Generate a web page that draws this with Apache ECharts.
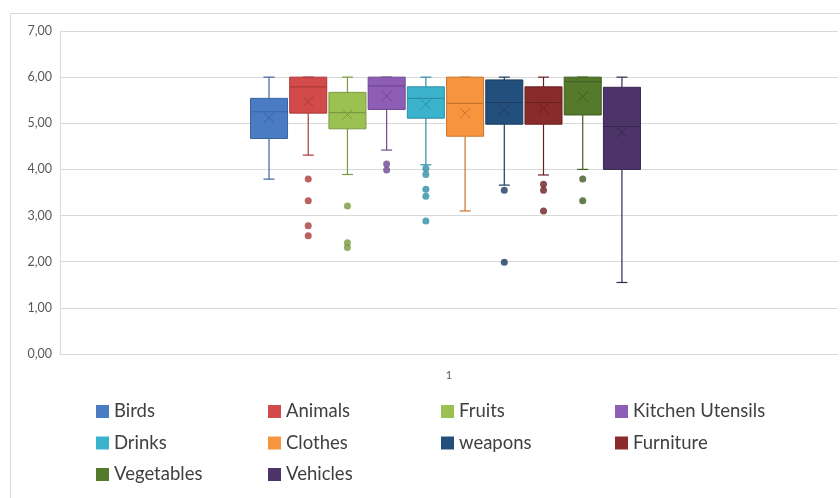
<!DOCTYPE html>
<html>
<head>
<meta charset="utf-8">
<script src="https://cdn.jsdelivr.net/npm/echarts@6/dist/echarts.min.js"></script>
<style>
  html, body { margin: 0; padding: 0; background: #fff; }
  #chart { width: 840px; height: 498px; }
</style>
</head>
<body>
<div id="chart"></div>
<script>
// 类别与系列
const categories = ['1']
const seriesNames = ['Birds', 'Animals', 'Fruits', 'Kitchen Utensils', 'Drinks',
  'Clothes', 'weapons', 'Furniture', 'Vegetables', 'Vehicles']
const fillColors = ['#4a7cc3', '#d24a4a', '#9bc152', '#8e5db6', '#3cb3cc',
  '#f7953f', '#234f7d', '#8a2b2b', '#557a2b', '#4c3468']
const edgeColors = ['#3a64a0', '#a93a3a', '#7b9a40', '#6f4791', '#2e8fa4',
  '#c87430', '#1a3b5e', '#6a1f1f', '#3f5c1f', '#382650']

// [min, q1, median, q3, max]
const boxMin = [3.79, 4.31, 3.89, 4.42, 4.10, 3.10, 3.66, 3.88, 4.00, 1.55]
const boxQ1 = [4.67, 5.22, 4.88, 5.30, 5.11, 4.72, 4.98, 4.98, 5.18, 4.00]
const boxMedian = [5.25, 5.79, 5.23, 5.81, 5.54, 5.43, 5.45, 5.45, 5.90, 4.93]
const boxQ3 = [5.54, 6.00, 5.67, 6.00, 5.79, 6.00, 5.94, 5.79, 6.00, 5.78]
const boxMax = [6.00, 6.00, 6.00, 6.00, 6.00, 6.00, 6.00, 6.00, 6.00, 6.00]
const boxMean = [5.12, 5.47, 5.19, 5.59, 5.41, 5.22, 5.29, 5.32, 5.58, 4.80]
const outliers = [
  [],
  [3.79, 3.32, 2.78, 2.56],
  [3.21, 2.41, 2.31],
  [4.12, 3.99],
  [4.02, 3.89, 3.57, 3.42, 2.88],
  [],
  [3.55, 1.99],
  [3.68, 3.55, 3.10],
  [3.79, 3.32],
  []
]
const yTicks = { min: 0, max: 7, interval: 1 }

const FONT = 'Lato'
const boxUnits = 0.944
const capUnits = 0.28
const meanUnits = 0.26

/**
 * 箱体绘制
 */
const renderBox = (params, api) => {
  const i = params.seriesIndex
  const x = api.value(0)
  const lo = api.coord([x, api.value(1)])
  const q1 = api.coord([x, api.value(2)])
  const md = api.coord([x, api.value(3)])
  const q3 = api.coord([x, api.value(4)])
  const hi = api.coord([x, api.value(5)])
  const mn = api.coord([x, api.value(6)])
  const halfW = api.size([boxUnits, 0])[0] / 2
  const capW = api.size([capUnits, 0])[0] / 2
  const mW = api.size([meanUnits, 0])[0] / 2
  const cx = lo[0]
  const edge = edgeColors[i]
  const line = (x1, y1, x2, y2, w) => ({
    type: 'line',
    shape: { x1, y1, x2, y2 },
    style: { stroke: edge, lineWidth: w || 1.2 }
  })
  return {
    type: 'group',
    children: [
      line(cx, hi[1], cx, q3[1]),
      line(cx, q1[1], cx, lo[1]),
      line(cx - capW, hi[1], cx + capW, hi[1]),
      line(cx - capW, lo[1], cx + capW, lo[1]),
      {
        type: 'rect',
        shape: { x: cx - halfW, y: q3[1], width: halfW * 2, height: q1[1] - q3[1] },
        style: { fill: fillColors[i], stroke: edge, lineWidth: 1 }
      },
      line(cx - halfW, md[1], cx + halfW, md[1], 1.2),
      line(cx - mW, mn[1] - mW, cx + mW, mn[1] + mW, 1),
      line(cx - mW, mn[1] + mW, cx + mW, mn[1] - mW, 1)
    ]
  }
}

const chart = echarts.init(document.getElementById('chart'))

const boxSeries = seriesNames.map((name, i) => ({
  name,
  type: 'custom',
  xAxisIndex: 1,
  yAxisIndex: 0,
  itemStyle: { color: fillColors[i], borderColor: edgeColors[i] },
  renderItem: renderBox,
  encode: { x: 0, y: [1, 2, 3, 4, 5, 6] },
  data: [[i, boxMin[i], boxQ1[i], boxMedian[i], boxQ3[i], boxMax[i], boxMean[i]]]
}))

const outlierData = []
outliers.forEach((list, i) => {
  list.forEach(v => {
    outlierData.push({ value: [i, v], itemStyle: { color: edgeColors[i] } })
  })
})

// 图例按列排布
const legendCols = [96, 268, 441, 615]
const legends = legendCols.map((left, c) => ({
  orient: 'vertical',
  left,
  top: 402,
  padding: 0,
  itemGap: 12.5,
  itemWidth: 13,
  itemHeight: 13,
  icon: 'rect',
  selectedMode: false,
  textStyle: { fontFamily: FONT, fontSize: 18.5, color: '#404040' },
  data: seriesNames.filter((n, i) => i % 4 === c)
}))

const option = {
  animation: false,
  backgroundColor: '#fff',
  graphic: [{
    type: 'rect',
    shape: { x: 10.5, y: 13.5, width: 900, height: 600 },
    style: { fill: 'none', stroke: '#d9d9d9', lineWidth: 1 },
    silent: true
  }],
  legend: legends,
  grid: { left: 60, right: 2, top: 31, bottom: 144 },
  xAxis: [
    {
      type: 'category',
      data: categories,
      axisTick: { show: false },
      axisLine: { lineStyle: { color: '#d9d9d9' } },
      axisLabel: { fontFamily: FONT, fontSize: 11, color: '#595959', margin: 16 }
    },
    {
      type: 'value',
      show: false,
      min: -5.33,
      max: 14.51,
      position: 'top'
    }
  ],
  yAxis: [{
    type: 'value',
    min: yTicks.min,
    max: yTicks.max,
    interval: yTicks.interval,
    axisLine: { show: true, onZero: false, lineStyle: { color: '#d9d9d9' } },
    axisTick: { show: false },
    splitLine: { lineStyle: { color: '#d9d9d9' } },
    axisLabel: {
      fontFamily: FONT,
      fontSize: 12.5,
      color: '#595959',
      margin: 8,
      formatter: v => v.toFixed(2).replace('.', ',')
    }
  }],
  series: boxSeries.concat([{
    name: '_outliers',
    type: 'scatter',
    xAxisIndex: 1,
    yAxisIndex: 0,
    symbol: 'circle',
    symbolSize: 7,
    data: outlierData
  }])
}

chart.setOption(option)
</script>
</body>
</html>
